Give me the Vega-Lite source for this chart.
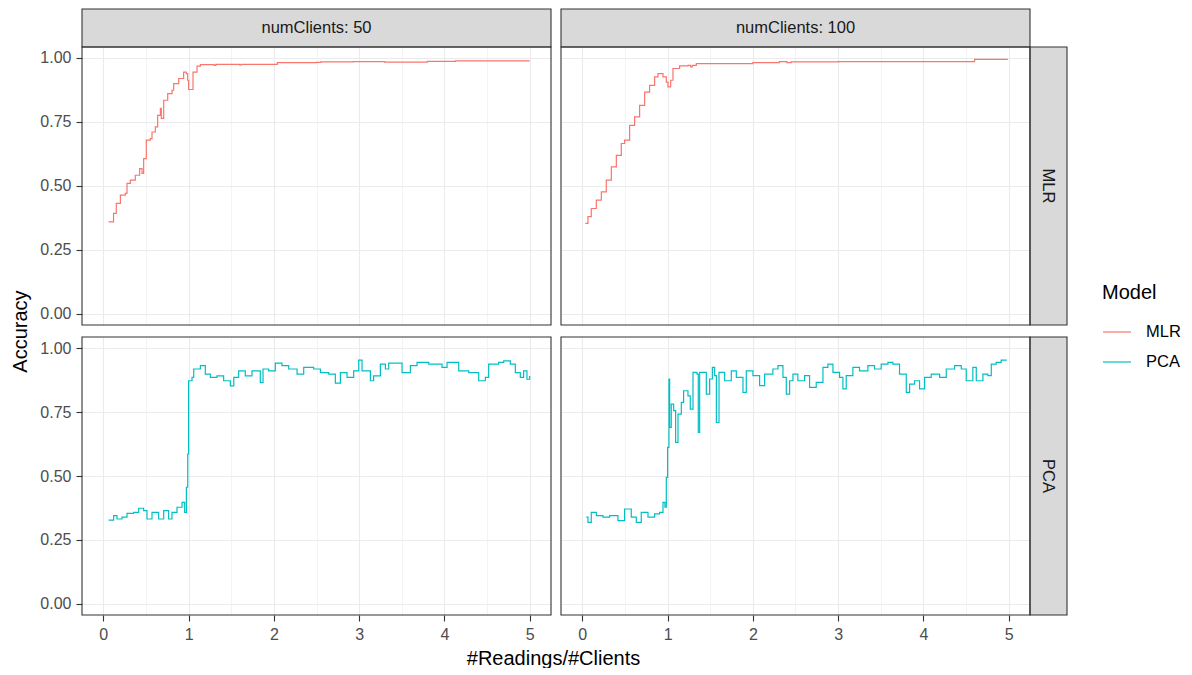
{
  "$schema": "https://vega.github.io/schema/vega-lite/v6.json",
  "background": "white",
  "padding": {"left": 10, "top": 8, "right": 0, "bottom": 0},
  "autosize": {"type": "pad"},
  "config": {
    "view": {"stroke": null},
    "font": "Liberation Sans",
    "axis": {
      "domain": false,
      "labelFont": "Liberation Sans",
      "labelFontSize": 16,
      "labelColor": "#4D4D4D",
      "labelOverlap": false,
      "labelPadding": 5,
      "tickColor": "#333333",
      "tickSize": 6,
      "tickWidth": 1.1,
      "gridColor": "#EBEBEB",
      "titleFont": "Liberation Sans",
      "titleFontSize": 20,
      "titleFontWeight": "normal",
      "titleColor": "#000000"
    },
    "legend": {
      "titleFont": "Liberation Sans",
      "labelFont": "Liberation Sans"
    }
  },
  "datasets": {
    "acc": [
      {"n": 50, "model": "MLR", "x": 0.062, "acc": 0.360},
      {"n": 50, "model": "MLR", "x": 0.11, "acc": 0.360},
      {"n": 50, "model": "MLR", "x": 0.12, "acc": 0.393},
      {"n": 50, "model": "MLR", "x": 0.152, "acc": 0.432},
      {"n": 50, "model": "MLR", "x": 0.2, "acc": 0.464},
      {"n": 50, "model": "MLR", "x": 0.258, "acc": 0.471},
      {"n": 50, "model": "MLR", "x": 0.278, "acc": 0.51},
      {"n": 50, "model": "MLR", "x": 0.317, "acc": 0.523},
      {"n": 50, "model": "MLR", "x": 0.375, "acc": 0.542},
      {"n": 50, "model": "MLR", "x": 0.426, "acc": 0.568},
      {"n": 50, "model": "MLR", "x": 0.454, "acc": 0.549},
      {"n": 50, "model": "MLR", "x": 0.473, "acc": 0.607},
      {"n": 50, "model": "MLR", "x": 0.504, "acc": 0.679},
      {"n": 50, "model": "MLR", "x": 0.551, "acc": 0.685},
      {"n": 50, "model": "MLR", "x": 0.571, "acc": 0.711},
      {"n": 50, "model": "MLR", "x": 0.61, "acc": 0.731},
      {"n": 50, "model": "MLR", "x": 0.637, "acc": 0.776},
      {"n": 50, "model": "MLR", "x": 0.669, "acc": 0.803},
      {"n": 50, "model": "MLR", "x": 0.68, "acc": 0.764},
      {"n": 50, "model": "MLR", "x": 0.708, "acc": 0.835},
      {"n": 50, "model": "MLR", "x": 0.755, "acc": 0.861},
      {"n": 50, "model": "MLR", "x": 0.806, "acc": 0.874},
      {"n": 50, "model": "MLR", "x": 0.825, "acc": 0.9},
      {"n": 50, "model": "MLR", "x": 0.884, "acc": 0.92},
      {"n": 50, "model": "MLR", "x": 0.942, "acc": 0.945},
      {"n": 50, "model": "MLR", "x": 0.974, "acc": 0.939},
      {"n": 50, "model": "MLR", "x": 0.989, "acc": 0.913},
      {"n": 50, "model": "MLR", "x": 1.0, "acc": 0.877},
      {"n": 50, "model": "MLR", "x": 1.032, "acc": 0.877},
      {"n": 50, "model": "MLR", "x": 1.052, "acc": 0.945},
      {"n": 50, "model": "MLR", "x": 1.099, "acc": 0.968},
      {"n": 50, "model": "MLR", "x": 1.138, "acc": 0.974},
      {"n": 50, "model": "MLR", "x": 1.3, "acc": 0.971},
      {"n": 50, "model": "MLR", "x": 1.32, "acc": 0.975},
      {"n": 50, "model": "MLR", "x": 1.6, "acc": 0.973},
      {"n": 50, "model": "MLR", "x": 1.62, "acc": 0.975},
      {"n": 50, "model": "MLR", "x": 2.04, "acc": 0.982},
      {"n": 50, "model": "MLR", "x": 2.5, "acc": 0.983},
      {"n": 50, "model": "MLR", "x": 2.55, "acc": 0.985},
      {"n": 50, "model": "MLR", "x": 2.93, "acc": 0.986},
      {"n": 50, "model": "MLR", "x": 3.3, "acc": 0.984},
      {"n": 50, "model": "MLR", "x": 3.8, "acc": 0.987},
      {"n": 50, "model": "MLR", "x": 4.13, "acc": 0.989},
      {"n": 50, "model": "MLR", "x": 5.0, "acc": 0.989},

      {"n": 100, "model": "MLR", "x": 0.035, "acc": 0.354},
      {"n": 100, "model": "MLR", "x": 0.066, "acc": 0.38},
      {"n": 100, "model": "MLR", "x": 0.105, "acc": 0.412},
      {"n": 100, "model": "MLR", "x": 0.164, "acc": 0.445},
      {"n": 100, "model": "MLR", "x": 0.223, "acc": 0.477},
      {"n": 100, "model": "MLR", "x": 0.281, "acc": 0.523},
      {"n": 100, "model": "MLR", "x": 0.34, "acc": 0.575},
      {"n": 100, "model": "MLR", "x": 0.399, "acc": 0.62},
      {"n": 100, "model": "MLR", "x": 0.457, "acc": 0.666},
      {"n": 100, "model": "MLR", "x": 0.496, "acc": 0.679},
      {"n": 100, "model": "MLR", "x": 0.555, "acc": 0.737},
      {"n": 100, "model": "MLR", "x": 0.613, "acc": 0.77},
      {"n": 100, "model": "MLR", "x": 0.672, "acc": 0.815},
      {"n": 100, "model": "MLR", "x": 0.731, "acc": 0.867},
      {"n": 100, "model": "MLR", "x": 0.789, "acc": 0.893},
      {"n": 100, "model": "MLR", "x": 0.848, "acc": 0.926},
      {"n": 100, "model": "MLR", "x": 0.887, "acc": 0.939},
      {"n": 100, "model": "MLR", "x": 0.946, "acc": 0.926},
      {"n": 100, "model": "MLR", "x": 0.985, "acc": 0.906},
      {"n": 100, "model": "MLR", "x": 1.004, "acc": 0.887},
      {"n": 100, "model": "MLR", "x": 1.036, "acc": 0.913},
      {"n": 100, "model": "MLR", "x": 1.063, "acc": 0.959},
      {"n": 100, "model": "MLR", "x": 1.141, "acc": 0.969},
      {"n": 100, "model": "MLR", "x": 1.24, "acc": 0.971},
      {"n": 100, "model": "MLR", "x": 1.27, "acc": 0.965},
      {"n": 100, "model": "MLR", "x": 1.29, "acc": 0.971},
      {"n": 100, "model": "MLR", "x": 1.337, "acc": 0.978},
      {"n": 100, "model": "MLR", "x": 2.0, "acc": 0.982},
      {"n": 100, "model": "MLR", "x": 2.31, "acc": 0.986},
      {"n": 100, "model": "MLR", "x": 2.4, "acc": 0.982},
      {"n": 100, "model": "MLR", "x": 2.45, "acc": 0.985},
      {"n": 100, "model": "MLR", "x": 3.0, "acc": 0.986},
      {"n": 100, "model": "MLR", "x": 3.5, "acc": 0.986},
      {"n": 100, "model": "MLR", "x": 4.6, "acc": 0.995},
      {"n": 100, "model": "MLR", "x": 4.99, "acc": 0.995},

      {"n": 50, "model": "PCA", "x": 0.062, "acc": 0.328},
      {"n": 50, "model": "PCA", "x": 0.121, "acc": 0.345},
      {"n": 50, "model": "PCA", "x": 0.16, "acc": 0.332},
      {"n": 50, "model": "PCA", "x": 0.219, "acc": 0.339},
      {"n": 50, "model": "PCA", "x": 0.278, "acc": 0.354},
      {"n": 50, "model": "PCA", "x": 0.356, "acc": 0.358},
      {"n": 50, "model": "PCA", "x": 0.415, "acc": 0.374},
      {"n": 50, "model": "PCA", "x": 0.473, "acc": 0.365},
      {"n": 50, "model": "PCA", "x": 0.512, "acc": 0.332},
      {"n": 50, "model": "PCA", "x": 0.571, "acc": 0.358},
      {"n": 50, "model": "PCA", "x": 0.649, "acc": 0.332},
      {"n": 50, "model": "PCA", "x": 0.708, "acc": 0.365},
      {"n": 50, "model": "PCA", "x": 0.766, "acc": 0.332},
      {"n": 50, "model": "PCA", "x": 0.805, "acc": 0.358},
      {"n": 50, "model": "PCA", "x": 0.864, "acc": 0.378},
      {"n": 50, "model": "PCA", "x": 0.923, "acc": 0.397},
      {"n": 50, "model": "PCA", "x": 0.954, "acc": 0.358},
      {"n": 50, "model": "PCA", "x": 0.974, "acc": 0.456},
      {"n": 50, "model": "PCA", "x": 0.99, "acc": 0.586},
      {"n": 50, "model": "PCA", "x": 1.0, "acc": 0.872},
      {"n": 50, "model": "PCA", "x": 1.04, "acc": 0.885},
      {"n": 50, "model": "PCA", "x": 1.06, "acc": 0.918},
      {"n": 50, "model": "PCA", "x": 1.138, "acc": 0.931},
      {"n": 50, "model": "PCA", "x": 1.196, "acc": 0.898},
      {"n": 50, "model": "PCA", "x": 1.255, "acc": 0.885},
      {"n": 50, "model": "PCA", "x": 1.333, "acc": 0.891},
      {"n": 50, "model": "PCA", "x": 1.411, "acc": 0.872},
      {"n": 50, "model": "PCA", "x": 1.49, "acc": 0.852},
      {"n": 50, "model": "PCA", "x": 1.53, "acc": 0.885},
      {"n": 50, "model": "PCA", "x": 1.587, "acc": 0.911},
      {"n": 50, "model": "PCA", "x": 1.665, "acc": 0.891},
      {"n": 50, "model": "PCA", "x": 1.743, "acc": 0.911},
      {"n": 50, "model": "PCA", "x": 1.841, "acc": 0.865},
      {"n": 50, "model": "PCA", "x": 1.873, "acc": 0.918},
      {"n": 50, "model": "PCA", "x": 1.939, "acc": 0.911},
      {"n": 50, "model": "PCA", "x": 2.017, "acc": 0.941},
      {"n": 50, "model": "PCA", "x": 2.095, "acc": 0.931},
      {"n": 50, "model": "PCA", "x": 2.174, "acc": 0.918},
      {"n": 50, "model": "PCA", "x": 2.272, "acc": 0.898},
      {"n": 50, "model": "PCA", "x": 2.35, "acc": 0.924},
      {"n": 50, "model": "PCA", "x": 2.467, "acc": 0.918},
      {"n": 50, "model": "PCA", "x": 2.546, "acc": 0.904},
      {"n": 50, "model": "PCA", "x": 2.643, "acc": 0.898},
      {"n": 50, "model": "PCA", "x": 2.721, "acc": 0.863},
      {"n": 50, "model": "PCA", "x": 2.78, "acc": 0.904},
      {"n": 50, "model": "PCA", "x": 2.858, "acc": 0.885},
      {"n": 50, "model": "PCA", "x": 2.936, "acc": 0.911},
      {"n": 50, "model": "PCA", "x": 2.995, "acc": 0.953},
      {"n": 50, "model": "PCA", "x": 3.034, "acc": 0.911},
      {"n": 50, "model": "PCA", "x": 3.132, "acc": 0.872},
      {"n": 50, "model": "PCA", "x": 3.17, "acc": 0.891},
      {"n": 50, "model": "PCA", "x": 3.249, "acc": 0.937},
      {"n": 50, "model": "PCA", "x": 3.308, "acc": 0.918},
      {"n": 50, "model": "PCA", "x": 3.347, "acc": 0.941},
      {"n": 50, "model": "PCA", "x": 3.464, "acc": 0.941},
      {"n": 50, "model": "PCA", "x": 3.503, "acc": 0.904},
      {"n": 50, "model": "PCA", "x": 3.601, "acc": 0.931},
      {"n": 50, "model": "PCA", "x": 3.679, "acc": 0.944},
      {"n": 50, "model": "PCA", "x": 3.816, "acc": 0.937},
      {"n": 50, "model": "PCA", "x": 3.972, "acc": 0.924},
      {"n": 50, "model": "PCA", "x": 4.031, "acc": 0.944},
      {"n": 50, "model": "PCA", "x": 4.168, "acc": 0.911},
      {"n": 50, "model": "PCA", "x": 4.285, "acc": 0.904},
      {"n": 50, "model": "PCA", "x": 4.402, "acc": 0.872},
      {"n": 50, "model": "PCA", "x": 4.48, "acc": 0.885},
      {"n": 50, "model": "PCA", "x": 4.519, "acc": 0.937},
      {"n": 50, "model": "PCA", "x": 4.636, "acc": 0.944},
      {"n": 50, "model": "PCA", "x": 4.695, "acc": 0.95},
      {"n": 50, "model": "PCA", "x": 4.773, "acc": 0.937},
      {"n": 50, "model": "PCA", "x": 4.832, "acc": 0.904},
      {"n": 50, "model": "PCA", "x": 4.89, "acc": 0.885},
      {"n": 50, "model": "PCA", "x": 4.929, "acc": 0.911},
      {"n": 50, "model": "PCA", "x": 4.968, "acc": 0.878},
      {"n": 50, "model": "PCA", "x": 5.0, "acc": 0.891},

      {"n": 100, "model": "PCA", "x": 0.047, "acc": 0.339},
      {"n": 100, "model": "PCA", "x": 0.066, "acc": 0.319},
      {"n": 100, "model": "PCA", "x": 0.105, "acc": 0.358},
      {"n": 100, "model": "PCA", "x": 0.164, "acc": 0.345},
      {"n": 100, "model": "PCA", "x": 0.242, "acc": 0.339},
      {"n": 100, "model": "PCA", "x": 0.32, "acc": 0.345},
      {"n": 100, "model": "PCA", "x": 0.418, "acc": 0.326},
      {"n": 100, "model": "PCA", "x": 0.496, "acc": 0.371},
      {"n": 100, "model": "PCA", "x": 0.574, "acc": 0.339},
      {"n": 100, "model": "PCA", "x": 0.633, "acc": 0.319},
      {"n": 100, "model": "PCA", "x": 0.691, "acc": 0.358},
      {"n": 100, "model": "PCA", "x": 0.77, "acc": 0.339},
      {"n": 100, "model": "PCA", "x": 0.848, "acc": 0.352},
      {"n": 100, "model": "PCA", "x": 0.906, "acc": 0.358},
      {"n": 100, "model": "PCA", "x": 0.946, "acc": 0.397},
      {"n": 100, "model": "PCA", "x": 0.969, "acc": 0.378},
      {"n": 100, "model": "PCA", "x": 0.985, "acc": 0.495},
      {"n": 100, "model": "PCA", "x": 1.0, "acc": 0.612},
      {"n": 100, "model": "PCA", "x": 1.016, "acc": 0.879},
      {"n": 100, "model": "PCA", "x": 1.024, "acc": 0.69},
      {"n": 100, "model": "PCA", "x": 1.043, "acc": 0.781},
      {"n": 100, "model": "PCA", "x": 1.071, "acc": 0.755},
      {"n": 100, "model": "PCA", "x": 1.094, "acc": 0.631},
      {"n": 100, "model": "PCA", "x": 1.122, "acc": 0.742},
      {"n": 100, "model": "PCA", "x": 1.161, "acc": 0.788},
      {"n": 100, "model": "PCA", "x": 1.188, "acc": 0.833},
      {"n": 100, "model": "PCA", "x": 1.239, "acc": 0.813},
      {"n": 100, "model": "PCA", "x": 1.266, "acc": 0.761},
      {"n": 100, "model": "PCA", "x": 1.298, "acc": 0.905},
      {"n": 100, "model": "PCA", "x": 1.345, "acc": 0.898},
      {"n": 100, "model": "PCA", "x": 1.36, "acc": 0.67},
      {"n": 100, "model": "PCA", "x": 1.376, "acc": 0.905},
      {"n": 100, "model": "PCA", "x": 1.423, "acc": 0.905},
      {"n": 100, "model": "PCA", "x": 1.454, "acc": 0.82},
      {"n": 100, "model": "PCA", "x": 1.493, "acc": 0.879},
      {"n": 100, "model": "PCA", "x": 1.525, "acc": 0.924},
      {"n": 100, "model": "PCA", "x": 1.552, "acc": 0.892},
      {"n": 100, "model": "PCA", "x": 1.572, "acc": 0.709},
      {"n": 100, "model": "PCA", "x": 1.603, "acc": 0.905},
      {"n": 100, "model": "PCA", "x": 1.669, "acc": 0.872},
      {"n": 100, "model": "PCA", "x": 1.747, "acc": 0.911},
      {"n": 100, "model": "PCA", "x": 1.806, "acc": 0.885},
      {"n": 100, "model": "PCA", "x": 1.884, "acc": 0.827},
      {"n": 100, "model": "PCA", "x": 1.923, "acc": 0.911},
      {"n": 100, "model": "PCA", "x": 2.001, "acc": 0.892},
      {"n": 100, "model": "PCA", "x": 2.079, "acc": 0.853},
      {"n": 100, "model": "PCA", "x": 2.138, "acc": 0.898},
      {"n": 100, "model": "PCA", "x": 2.235, "acc": 0.918},
      {"n": 100, "model": "PCA", "x": 2.294, "acc": 0.931},
      {"n": 100, "model": "PCA", "x": 2.353, "acc": 0.885},
      {"n": 100, "model": "PCA", "x": 2.392, "acc": 0.82},
      {"n": 100, "model": "PCA", "x": 2.431, "acc": 0.872},
      {"n": 100, "model": "PCA", "x": 2.47, "acc": 0.898},
      {"n": 100, "model": "PCA", "x": 2.528, "acc": 0.872},
      {"n": 100, "model": "PCA", "x": 2.607, "acc": 0.892},
      {"n": 100, "model": "PCA", "x": 2.665, "acc": 0.846},
      {"n": 100, "model": "PCA", "x": 2.743, "acc": 0.866},
      {"n": 100, "model": "PCA", "x": 2.822, "acc": 0.924},
      {"n": 100, "model": "PCA", "x": 2.88, "acc": 0.937},
      {"n": 100, "model": "PCA", "x": 2.939, "acc": 0.905},
      {"n": 100, "model": "PCA", "x": 3.017, "acc": 0.885},
      {"n": 100, "model": "PCA", "x": 3.056, "acc": 0.84},
      {"n": 100, "model": "PCA", "x": 3.095, "acc": 0.892},
      {"n": 100, "model": "PCA", "x": 3.173, "acc": 0.924},
      {"n": 100, "model": "PCA", "x": 3.251, "acc": 0.911},
      {"n": 100, "model": "PCA", "x": 3.349, "acc": 0.931},
      {"n": 100, "model": "PCA", "x": 3.427, "acc": 0.918},
      {"n": 100, "model": "PCA", "x": 3.505, "acc": 0.937},
      {"n": 100, "model": "PCA", "x": 3.584, "acc": 0.944},
      {"n": 100, "model": "PCA", "x": 3.642, "acc": 0.937},
      {"n": 100, "model": "PCA", "x": 3.72, "acc": 0.898},
      {"n": 100, "model": "PCA", "x": 3.799, "acc": 0.827},
      {"n": 100, "model": "PCA", "x": 3.838, "acc": 0.859},
      {"n": 100, "model": "PCA", "x": 3.896, "acc": 0.872},
      {"n": 100, "model": "PCA", "x": 3.955, "acc": 0.84},
      {"n": 100, "model": "PCA", "x": 4.014, "acc": 0.885},
      {"n": 100, "model": "PCA", "x": 4.092, "acc": 0.898},
      {"n": 100, "model": "PCA", "x": 4.19, "acc": 0.885},
      {"n": 100, "model": "PCA", "x": 4.268, "acc": 0.918},
      {"n": 100, "model": "PCA", "x": 4.366, "acc": 0.931},
      {"n": 100, "model": "PCA", "x": 4.444, "acc": 0.918},
      {"n": 100, "model": "PCA", "x": 4.502, "acc": 0.872},
      {"n": 100, "model": "PCA", "x": 4.58, "acc": 0.924},
      {"n": 100, "model": "PCA", "x": 4.62, "acc": 0.872},
      {"n": 100, "model": "PCA", "x": 4.698, "acc": 0.898},
      {"n": 100, "model": "PCA", "x": 4.756, "acc": 0.892},
      {"n": 100, "model": "PCA", "x": 4.796, "acc": 0.937},
      {"n": 100, "model": "PCA", "x": 4.854, "acc": 0.944},
      {"n": 100, "model": "PCA", "x": 4.912, "acc": 0.953},
      {"n": 100, "model": "PCA", "x": 4.971, "acc": 0.95}
    ]
  },
  "columns": 2,
  "spacing": {"row": 12, "column": 10},
  "bounds": "flush",
  "align": "each",
  "resolve": {"scale": {"x": "independent", "y": "independent", "color": "shared"}},
  "concat": [
    {
      "width": 469,
      "height": 316,
      "layer": [
        {
          "data": {"name": "acc"},
          "transform": [{"filter": "datum.n === 50 && datum.model === 'MLR'"}],
          "mark": {"type": "line", "interpolate": "step-after", "strokeWidth": 1.2},
          "encoding": {
            "x": {"field": "x", "type": "quantitative", "scale": {"domain": [-0.25, 5.25], "nice": false, "zero": false},
              "axis": {"title": null, "labels": false, "ticks": false, "values": [0, 0.5, 1, 1.5, 2, 2.5, 3, 3.5, 4, 4.5, 5],
                "gridWidth": {"condition": {"test": "datum.value % 1 === 0", "value": 1.1}, "value": 0.55}}},
            "y": {"field": "acc", "type": "quantitative", "scale": {"domain": [-0.043, 1.1914], "nice": false, "zero": false},
              "axis": {"title": "Accuracy", "titleY": 322, "titlePadding": 9, "values": [0, 0.125, 0.25, 0.375, 0.5, 0.625, 0.75, 0.875, 1],
                "labelExpr": "(datum.value * 4) % 1 === 0 ? format(datum.value, '.2f') : ''",
                "tickOpacity": {"condition": {"test": "(datum.value * 4) % 1 === 0", "value": 1}, "value": 0},
                "gridWidth": {"condition": {"test": "(datum.value * 4) % 1 === 0", "value": 1.1}, "value": 0.55}}},
            "color": {"field": "model", "type": "nominal",
              "scale": {"domain": ["MLR", "PCA"], "range": ["#F8766D", "#00BFC4"]},
              "legend": {"title": "Model", "orient": "none", "legendX": 1020, "legendY": 274,
                "titleFontSize": 20, "titleFontWeight": "normal", "titleColor": "#000000", "titlePadding": 14,
                "labelFontSize": 16.5, "labelColor": "#000000", "labelOffset": 14,
                "symbolType": "stroke", "symbolSize": 784, "symbolStrokeWidth": 1.2, "rowPadding": 6}}
          }
        },
        {
          "data": {"values": [{"label": "numClients: 50"}]},
          "mark": {"type": "rect", "fill": "#D9D9D9", "stroke": "#333333", "strokeWidth": 1.1},
          "encoding": {"x": {"datum": -0.25}, "x2": {"datum": 5.25}, "y": {"datum": 1.043}, "y2": {"datum": 1.1914}}
        },
        {
          "data": {"values": [{"label": "numClients: 50"}]},
          "mark": {"type": "text", "fontSize": 16.5, "color": "#1A1A1A", "font": "Liberation Sans"},
          "encoding": {"x": {"datum": 2.5}, "y": {"datum": 1.117}, "text": {"field": "label"}}
        },
        {
          "data": {"values": [{"label": "panel"}]},
          "mark": {"type": "rect", "filled": false, "stroke": "#333333", "strokeWidth": 1.1},
          "encoding": {"x": {"datum": -0.25}, "x2": {"datum": 5.25}, "y": {"datum": -0.043}, "y2": {"datum": 1.043}}
        }
      ]
    },
    {
      "width": 506,
      "height": 316,
      "layer": [
        {
          "data": {"name": "acc"},
          "transform": [{"filter": "datum.n === 100 && datum.model === 'MLR'"}],
          "mark": {"type": "line", "interpolate": "step-after", "strokeWidth": 1.2},
          "encoding": {
            "x": {"field": "x", "type": "quantitative", "scale": {"domain": [-0.25, 5.684], "nice": false, "zero": false},
              "axis": {"title": null, "labels": false, "ticks": false, "values": [0, 0.5, 1, 1.5, 2, 2.5, 3, 3.5, 4, 4.5, 5],
                "gridWidth": {"condition": {"test": "datum.value % 1 === 0", "value": 1.1}, "value": 0.55}}},
            "y": {"field": "acc", "type": "quantitative", "scale": {"domain": [-0.043, 1.1914], "nice": false, "zero": false},
              "axis": {"title": null, "labels": false, "ticks": false, "values": [0, 0.125, 0.25, 0.375, 0.5, 0.625, 0.75, 0.875, 1],
                "gridWidth": {"condition": {"test": "(datum.value * 4) % 1 === 0", "value": 1.1}, "value": 0.55}}},
            "color": {"field": "model", "type": "nominal", "scale": {"domain": ["MLR", "PCA"], "range": ["#F8766D", "#00BFC4"]}}
          }
        },
        {
          "data": {"values": [{"label": "numClients: 100"}]},
          "mark": {"type": "rect", "fill": "#D9D9D9", "stroke": "#333333", "strokeWidth": 1.1},
          "encoding": {"x": {"datum": -0.25}, "x2": {"datum": 5.25}, "y": {"datum": 1.043}, "y2": {"datum": 1.1914}}
        },
        {
          "data": {"values": [{"label": "numClients: 100"}]},
          "mark": {"type": "text", "fontSize": 16.5, "color": "#1A1A1A", "font": "Liberation Sans"},
          "encoding": {"x": {"datum": 2.5}, "y": {"datum": 1.117}, "text": {"field": "label"}}
        },
        {
          "data": {"values": [{"label": "MLR"}]},
          "mark": {"type": "rect", "fill": "#D9D9D9", "stroke": "#333333", "strokeWidth": 1.1},
          "encoding": {"x": {"datum": 5.25}, "x2": {"datum": 5.684}, "y": {"datum": -0.043}, "y2": {"datum": 1.043}}
        },
        {
          "data": {"values": [{"label": "MLR"}]},
          "mark": {"type": "text", "fontSize": 16.5, "color": "#1A1A1A", "font": "Liberation Sans", "angle": 90},
          "encoding": {"x": {"datum": 5.467}, "y": {"datum": 0.5}, "text": {"field": "label"}}
        },
        {
          "data": {"values": [{"label": "panel"}]},
          "mark": {"type": "rect", "filled": false, "stroke": "#333333", "strokeWidth": 1.1},
          "encoding": {"x": {"datum": -0.25}, "x2": {"datum": 5.25}, "y": {"datum": -0.043}, "y2": {"datum": 1.043}}
        }
      ]
    },
    {
      "width": 469,
      "height": 278,
      "layer": [
        {
          "data": {"name": "acc"},
          "transform": [{"filter": "datum.n === 50 && datum.model === 'PCA'"}],
          "mark": {"type": "line", "interpolate": "step-after", "strokeWidth": 1.2},
          "encoding": {
            "x": {"field": "x", "type": "quantitative", "scale": {"domain": [-0.25, 5.25], "nice": false, "zero": false},
              "axis": {"title": "#Readings/#Clients", "titleX": 471, "titlePadding": 6, "values": [0, 0.5, 1, 1.5, 2, 2.5, 3, 3.5, 4, 4.5, 5],
                "labelExpr": "datum.value % 1 === 0 ? format(datum.value, 'd') : ''",
                "tickOpacity": {"condition": {"test": "datum.value % 1 === 0", "value": 1}, "value": 0},
                "gridWidth": {"condition": {"test": "datum.value % 1 === 0", "value": 1.1}, "value": 0.55}}},
            "y": {"field": "acc", "type": "quantitative", "scale": {"domain": [-0.043, 1.043], "nice": false, "zero": false},
              "axis": {"title": null, "values": [0, 0.125, 0.25, 0.375, 0.5, 0.625, 0.75, 0.875, 1],
                "labelExpr": "(datum.value * 4) % 1 === 0 ? format(datum.value, '.2f') : ''",
                "tickOpacity": {"condition": {"test": "(datum.value * 4) % 1 === 0", "value": 1}, "value": 0},
                "gridWidth": {"condition": {"test": "(datum.value * 4) % 1 === 0", "value": 1.1}, "value": 0.55}}},
            "color": {"field": "model", "type": "nominal", "scale": {"domain": ["MLR", "PCA"], "range": ["#F8766D", "#00BFC4"]}}
          }
        },
        {
          "data": {"values": [{"label": "panel"}]},
          "mark": {"type": "rect", "filled": false, "stroke": "#333333", "strokeWidth": 1.1},
          "encoding": {"x": {"datum": -0.25}, "x2": {"datum": 5.25}, "y": {"datum": -0.043}, "y2": {"datum": 1.043}}
        }
      ]
    },
    {
      "width": 506,
      "height": 278,
      "layer": [
        {
          "data": {"name": "acc"},
          "transform": [{"filter": "datum.n === 100 && datum.model === 'PCA'"}],
          "mark": {"type": "line", "interpolate": "step-after", "strokeWidth": 1.2},
          "encoding": {
            "x": {"field": "x", "type": "quantitative", "scale": {"domain": [-0.25, 5.684], "nice": false, "zero": false},
              "axis": {"title": null, "values": [0, 0.5, 1, 1.5, 2, 2.5, 3, 3.5, 4, 4.5, 5],
                "labelExpr": "datum.value % 1 === 0 ? format(datum.value, 'd') : ''",
                "tickOpacity": {"condition": {"test": "datum.value % 1 === 0", "value": 1}, "value": 0},
                "gridWidth": {"condition": {"test": "datum.value % 1 === 0", "value": 1.1}, "value": 0.55}}},
            "y": {"field": "acc", "type": "quantitative", "scale": {"domain": [-0.043, 1.043], "nice": false, "zero": false},
              "axis": {"title": null, "labels": false, "ticks": false, "values": [0, 0.125, 0.25, 0.375, 0.5, 0.625, 0.75, 0.875, 1],
                "gridWidth": {"condition": {"test": "(datum.value * 4) % 1 === 0", "value": 1.1}, "value": 0.55}}},
            "color": {"field": "model", "type": "nominal", "scale": {"domain": ["MLR", "PCA"], "range": ["#F8766D", "#00BFC4"]}}
          }
        },
        {
          "data": {"values": [{"label": "PCA"}]},
          "mark": {"type": "rect", "fill": "#D9D9D9", "stroke": "#333333", "strokeWidth": 1.1},
          "encoding": {"x": {"datum": 5.25}, "x2": {"datum": 5.684}, "y": {"datum": -0.043}, "y2": {"datum": 1.043}}
        },
        {
          "data": {"values": [{"label": "PCA"}]},
          "mark": {"type": "text", "fontSize": 16.5, "color": "#1A1A1A", "font": "Liberation Sans", "angle": 90},
          "encoding": {"x": {"datum": 5.467}, "y": {"datum": 0.5}, "text": {"field": "label"}}
        },
        {
          "data": {"values": [{"label": "panel"}]},
          "mark": {"type": "rect", "filled": false, "stroke": "#333333", "strokeWidth": 1.1},
          "encoding": {"x": {"datum": -0.25}, "x2": {"datum": 5.25}, "y": {"datum": -0.043}, "y2": {"datum": 1.043}}
        }
      ]
    }
  ]
}
